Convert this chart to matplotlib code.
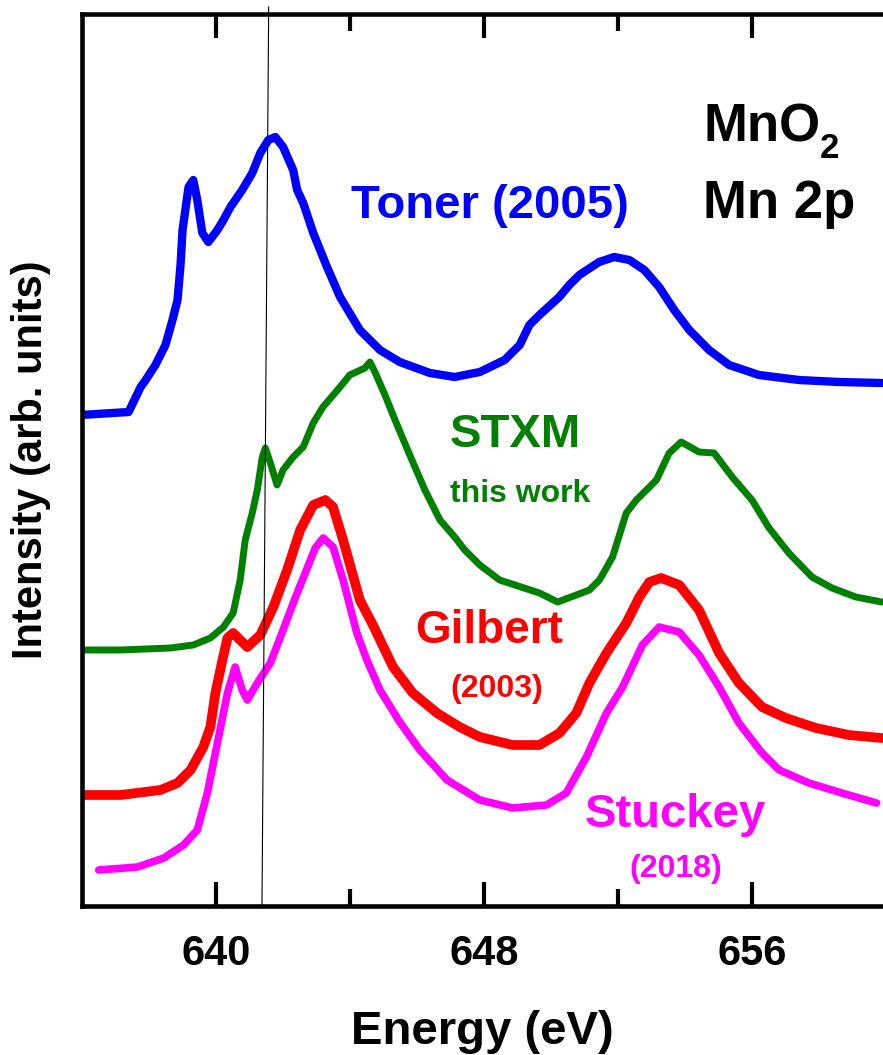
import matplotlib
matplotlib.use('Agg')
import matplotlib.pyplot as plt

plt.rcParams['font.family'] = ['Liberation Sans', 'DejaVu Sans']
plt.rcParams['font.weight'] = 'bold'

# Toner (2005)
toner_e = [635.96, 637.39, 637.75, 637.90, 638.19, 638.49, 638.70, 638.85, 638.94, 639.00,
           639.18, 639.32, 639.44, 639.59, 639.77, 640.04, 640.22, 640.43, 640.78, 641.08,
           641.32, 641.56, 641.77, 642.00, 642.30, 642.42, 642.60, 642.90, 643.31, 643.70,
           644.29, 644.89, 645.48, 646.38, 647.12, 647.87, 648.61, 649.06, 649.35, 649.65,
           650.24, 650.54, 650.84, 651.43, 651.88, 652.33, 652.78, 653.22, 653.67, 654.12,
           654.71, 655.31, 656.20, 657.39, 658.58, 659.86]
toner_i = [4.91, 4.94, 5.19, 5.26, 5.41, 5.61, 5.86, 6.06, 6.41, 6.76,
           7.19, 7.26, 7.06, 6.73, 6.64, 6.76, 6.86, 6.99, 7.16, 7.33,
           7.53, 7.66, 7.69, 7.59, 7.36, 7.16, 7.03, 6.73, 6.39, 6.09,
           5.76, 5.56, 5.44, 5.33, 5.29, 5.34, 5.46, 5.61, 5.81, 5.91,
           6.09, 6.21, 6.31, 6.44, 6.49, 6.46, 6.36, 6.19, 5.96, 5.76,
           5.56, 5.41, 5.31, 5.26, 5.24, 5.23]

# STXM, this work
stxm_e = [635.96, 637.15, 638.64, 639.32, 639.83, 640.22, 640.51, 640.72, 640.87, 641.08,
          641.23, 641.38, 641.47, 641.62, 641.82, 642.00, 642.30, 642.60, 642.90, 643.19,
          643.70, 643.99, 644.44, 644.59, 644.74, 645.04, 645.34, 645.78, 646.23, 646.68,
          647.12, 647.42, 647.87, 648.46, 649.65, 650.19, 650.75, 651.14, 651.44, 651.83,
          652.24, 652.54, 653.14, 653.52, 653.88, 654.41, 654.86, 655.40, 655.99, 656.50,
          657.09, 657.78, 658.38, 659.09, 659.86]
stxm_i = [2.56, 2.56, 2.58, 2.61, 2.68, 2.79, 2.93, 3.26, 3.66, 3.93,
          4.16, 4.49, 4.58, 4.43, 4.21, 4.36, 4.49, 4.59, 4.83, 4.99,
          5.19, 5.31, 5.38, 5.44, 5.34, 5.11, 4.86, 4.51, 4.16, 3.86,
          3.69, 3.56, 3.41, 3.26, 3.13, 3.04, 3.11, 3.16, 3.26, 3.49,
          3.93, 4.06, 4.26, 4.53, 4.64, 4.54, 4.53, 4.29, 4.06, 3.78,
          3.53, 3.29, 3.18, 3.09, 3.04]

# Gilbert (2003)
gilbert_e = [635.96, 637.15, 638.34, 638.85, 639.24, 639.62, 639.83, 639.98, 640.19, 640.34,
             640.51, 640.93, 641.32, 641.71, 642.12, 642.51, 642.90, 643.26, 643.49, 643.79,
             644.29, 644.68, 645.28, 645.87, 646.59, 647.27, 647.87, 648.85, 649.65, 650.25,
             650.75, 651.14, 651.65, 652.24, 652.63, 652.93, 653.28, 653.82, 654.41, 655.01,
             655.60, 656.29, 657.00, 657.90, 658.88, 659.86]
gilbert_i = [1.11, 1.11, 1.16, 1.23, 1.36, 1.59, 1.79, 2.13, 2.46, 2.68,
             2.73, 2.59, 2.71, 2.99, 3.36, 3.76, 4.01, 4.06, 3.99, 3.66,
             3.06, 2.81, 2.39, 2.13, 1.93, 1.79, 1.69, 1.61, 1.61, 1.73,
             1.93, 2.23, 2.53, 2.83, 3.09, 3.24, 3.28, 3.21, 2.96, 2.53,
             2.23, 1.99, 1.88, 1.78, 1.71, 1.68]

# Stuckey (2018)
stuckey_e = [636.50, 637.66, 638.44, 639.03, 639.44, 639.74, 640.04, 640.34, 640.57, 640.78,
             640.93, 641.23, 641.62, 642.00, 642.36, 642.72, 642.96, 643.20, 643.49, 643.79,
             644.20, 644.50, 644.89, 645.48, 646.08, 646.89, 647.87, 648.85, 649.86, 650.45,
             651.05, 651.65, 652.13, 652.72, 653.22, 653.82, 654.41, 655.01, 655.60, 656.29,
             656.80, 657.69, 658.67, 659.71]
stuckey_i = [0.36, 0.39, 0.48, 0.61, 0.76, 1.13, 1.63, 2.13, 2.39, 2.16,
             2.06, 2.23, 2.43, 2.76, 3.08, 3.38, 3.58, 3.68, 3.59, 3.26,
             2.73, 2.46, 2.16, 1.84, 1.56, 1.26, 1.06, 0.98, 1.01, 1.13,
             1.49, 1.93, 2.19, 2.61, 2.79, 2.74, 2.51, 2.19, 1.83, 1.53,
             1.36, 1.23, 1.13, 1.03]

major_ticks = [640, 648, 656]
minor_ticks = [644, 652]
marker_e = [641.57, 641.37]
marker_i = [8.99, 0.0]

fig = plt.figure(figsize=(8.83, 10.55), dpi=100)
ax = fig.add_axes([82 / 883, 149 / 1055, 801 / 883, 892 / 1055])

style = dict(solid_capstyle='round', solid_joinstyle='round')
ax.plot(toner_e, toner_i, color='#0000ff', lw=6, **style)
ax.plot(stxm_e, stxm_i, color='#008000', lw=5, **style)
ax.plot(gilbert_e, gilbert_i, color='#ff0000', lw=7, **style)
ax.plot(stuckey_e, stuckey_i, color='#ff00ff', lw=5.5, **style)
ax.plot(marker_e, marker_i, color='black', lw=0.8, clip_on=False)

ax.text(644.03, 6.88, 'Toner (2005)', color='#0000ff', fontsize=34, fontweight='bold')
ax.text(654.53, 7.64, 'MnO', color='black', fontsize=38, fontweight='bold')
ax.text(658.0, 7.48, '2', color='black', fontsize=25, fontweight='bold')
ax.text(654.53, 6.88, 'Mn 2p', color='black', fontsize=38, fontweight='bold')
ax.text(646.96, 4.59, 'STXM', color='#008000', fontsize=34, fontweight='bold')
ax.text(646.99, 4.04, 'this work', color='#008000', fontsize=23, fontweight='bold')
ax.text(645.94, 2.63, 'Gilbert', color='#ff0000', fontsize=33, fontweight='bold')
ax.text(646.99, 2.09, '(2003)', color='#ff0000', fontsize=23, fontweight='bold')
ax.text(651.0, 0.79, 'Stuckey', color='#ff00ff', fontsize=34, fontweight='bold')
ax.text(652.33, 0.29, '(2018)', color='#ff00ff', fontsize=23, fontweight='bold')

ax.set_xlim(636, 659.9)
ax.set_ylim(0, 8.92)
ax.set_xticks(major_ticks)
ax.set_xticks(minor_ticks, minor=True)
ax.set_yticks([])
ax.tick_params(axis='x', which='major', direction='in', top=True, length=17, width=3,
               labelsize=30, pad=20)
ax.tick_params(axis='x', which='minor', direction='in', top=True, length=12, width=3)
for lab in ax.get_xticklabels():
    lab.set_fontweight('bold')
for side in ['left', 'bottom', 'top']:
    ax.spines[side].set_linewidth(3.3)
ax.spines['right'].set_visible(False)

ax.set_xlabel('Energy (eV)', fontsize=34, fontweight='bold', labelpad=26)
ax.set_ylabel('Intensity (arb. units)', fontsize=30, fontweight='bold', labelpad=22)

fig.savefig('out.png', dpi=100)
